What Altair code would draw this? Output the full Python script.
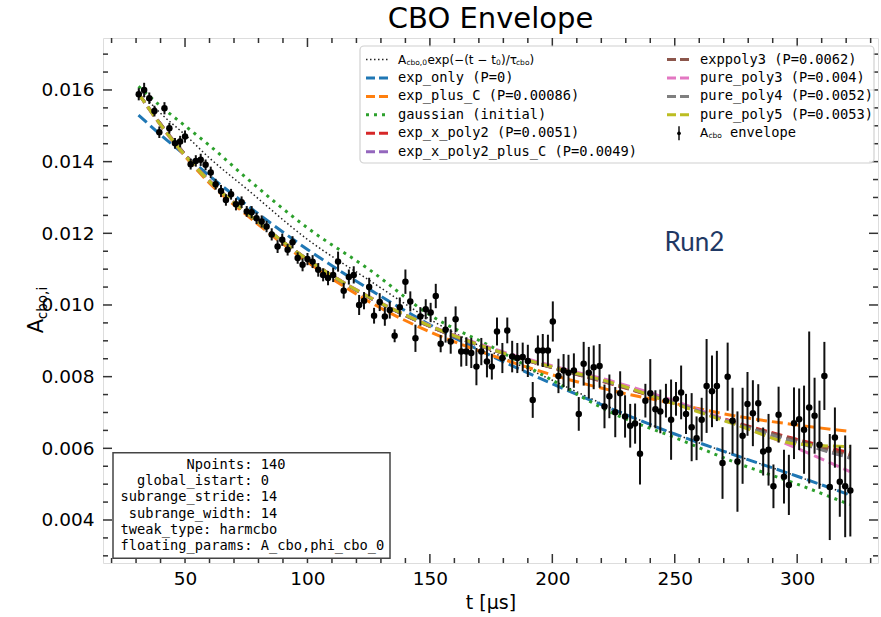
import altair as alt
import pandas as pd

# ---------------- data ----------------
t_obs = [31.1, 33.3, 35.4, 37.5, 39.5, 41.6, 43.6, 45.9, 48.0, 50.0, 52.3, 54.4, 56.4, 58.4, 60.5,
         62.5, 64.7, 66.7, 68.8, 70.8, 73.1, 75.2, 77.2, 79.2, 81.3, 83.3, 85.4, 87.8, 89.7,
         91.9, 93.9, 96.0, 98.0, 100.0, 102.1, 104.4, 106.4, 108.4, 110.5, 112.5, 114.8, 116.9, 118.9,
         121.1, 123.1, 125.2, 127.2, 129.5, 131.6, 133.6, 135.6, 137.7, 140.0, 142.0, 144.1, 146.1,
         148.3, 150.3, 152.4, 154.4,
         156.4, 158.5, 160.5, 162.8, 164.9, 166.9, 169.0, 171.0, 173.3, 175.3, 177.4, 179.6, 181.6,
         183.6, 185.7, 187.9, 190.0, 192.0, 194.1, 196.1, 198.2, 200.2, 202.5, 204.6, 206.6, 208.8,
         210.8, 212.8, 214.9, 216.9,
         219.3, 221.3, 223.3, 225.7, 227.7, 229.7, 231.8, 233.8, 235.8, 238.0, 240.0, 242.1, 244.1,
         246.4, 248.5, 250.5, 252.6, 254.6, 256.9, 258.9, 261.0, 263.0, 265.2, 267.2, 269.5, 271.6,
         273.6, 275.6, 277.7, 279.7, 281.9, 284.1, 286.1, 288.3, 290.3, 292.4, 294.6, 296.6, 298.7,
         300.8, 302.8, 304.9, 307.1, 309.1, 311.1, 313.3, 315.4, 317.4, 319.6, 321.7]

a_obs = [0.01588, 0.01600, 0.01577, 0.01541, 0.01482, 0.01549, 0.01493, 0.01451, 0.01456, 0.01470,
         0.01393, 0.01402, 0.01405, 0.01391, 0.01370, 0.01337, 0.01318, 0.01293, 0.01309, 0.01281,
         0.01287, 0.01261, 0.01259, 0.01242, 0.01233, 0.01219, 0.01197, 0.01163, 0.01182,
         0.01154, 0.01175, 0.01131, 0.01112, 0.01128, 0.01121, 0.01098, 0.01084, 0.01075, 0.01084,
         0.01121, 0.01040, 0.01078, 0.01084, 0.01000, 0.01012, 0.01050, 0.00970, 0.01008, 0.00968,
         0.00986, 0.00914, 0.00994, 0.01065, 0.01010, 0.00907, 0.00968, 0.00988, 0.00979, 0.01025,
         0.00892,
         0.00931, 0.00898, 0.00960, 0.00870, 0.00870, 0.00866, 0.00828, 0.00870, 0.00842, 0.00828,
         0.00926, 0.00852, 0.00929, 0.00856, 0.00852, 0.00855, 0.00844, 0.00735, 0.00873, 0.00873,
         0.00873, 0.00954, 0.00802, 0.00817, 0.00811, 0.00817, 0.00696, 0.00836, 0.00811, 0.00826,
         0.00830, 0.00717, 0.00745, 0.00701, 0.00754, 0.00689, 0.00663, 0.00669, 0.00585, 0.00733,
         0.00754, 0.00709, 0.00703, 0.00733, 0.00680, 0.00738, 0.00756, 0.00696, 0.00659, 0.00628,
         0.00680, 0.00774, 0.00759, 0.00774, 0.00559, 0.00800,
         0.00677, 0.00563, 0.00635, 0.00724, 0.00698, 0.00726, 0.00591, 0.00596, 0.00494, 0.00694,
         0.00521, 0.00498, 0.00670, 0.00681, 0.00652, 0.00714, 0.00691, 0.00610, 0.00802, 0.00492,
         0.00630, 0.00507, 0.00494, 0.00482]

a_err = [0.00017, 0.00020, 0.00016, 0.00015, 0.00016, 0.00017, 0.00015, 0.00015, 0.00016, 0.00017,
         0.00015, 0.00016, 0.00017, 0.00015, 0.00016, 0.00015, 0.00017, 0.00016, 0.00015, 0.00017,
         0.00016, 0.00015, 0.00017, 0.00016, 0.00017, 0.00016, 0.00017, 0.00018, 0.00017,
         0.00016, 0.00017, 0.00016, 0.00018, 0.00017, 0.00018, 0.00019, 0.00018, 0.00020, 0.00020,
         0.00028, 0.00022, 0.00021, 0.00024, 0.00028, 0.00024, 0.00026, 0.00022, 0.00025, 0.00026,
         0.00024, 0.00018, 0.00027, 0.00034, 0.00028, 0.00038, 0.00026, 0.00028, 0.00027, 0.00034,
         0.00024,
         0.00036, 0.00034, 0.00036, 0.00042, 0.00040, 0.00042, 0.00052, 0.00038, 0.00044, 0.00036,
         0.00039, 0.00042, 0.00036, 0.00044, 0.00042, 0.00040, 0.00045, 0.00050, 0.00042, 0.00046,
         0.00044, 0.00056, 0.00048, 0.00046, 0.00050, 0.00048, 0.00047, 0.00061, 0.00072, 0.00061,
         0.00061, 0.00061, 0.00061, 0.00070, 0.00061, 0.00059, 0.00061, 0.00056, 0.00086, 0.00047,
         0.00095, 0.00053, 0.00061, 0.00047, 0.00112, 0.00047, 0.00075, 0.00056, 0.00095, 0.00061,
         0.00061, 0.00131, 0.00100, 0.00098, 0.00100, 0.00095,
         0.00092, 0.00140, 0.00134, 0.00089, 0.00092, 0.00053, 0.00067, 0.00100, 0.00061, 0.00078,
         0.00075, 0.00084, 0.00100, 0.00086, 0.00123, 0.00212, 0.00106, 0.00123, 0.00095, 0.00148,
         0.00084, 0.00098, 0.00142, 0.00128]

curve_t = [31, 40, 50, 60, 75, 100, 125, 150, 175, 200, 225, 250, 275, 300, 321.5]
formula_vals = [0.0160, 0.01535, 0.01475, 0.0141, 0.01325, 0.01183, 0.0107, 0.0096, 0.0087, 0.0079,
                0.0071, 0.0064, 0.0058, 0.00522, 0.0047]
exp_only = [0.0153, 0.01475, 0.01418, 0.0136, 0.0128, 0.01155, 0.01045, 0.00945, 0.00858, 0.0078,
            0.00708, 0.0064, 0.0058, 0.00522, 0.0047]
exp_plus_C = [0.0159, 0.01502, 0.01415, 0.0134, 0.01252, 0.0112, 0.0101, 0.00925, 0.0086, 0.00805,
              0.0076, 0.00725, 0.0069, 0.00665, 0.00647]
gaussian = [0.0161, 0.01555, 0.0150, 0.01445, 0.01355, 0.01215, 0.0110, 0.00972, 0.00884, 0.0079,
            0.00697, 0.0063, 0.0056, 0.0050, 0.00443]
exp_x_poly2 = [0.0159, 0.01505, 0.0142, 0.01346, 0.01258, 0.01127, 0.01022, 0.0094, 0.00876, 0.00825,
               0.00778, 0.00726, 0.00672, 0.00625, 0.00587]
exp_x_poly2_plus_C = [0.0159, 0.01505, 0.0142, 0.01346, 0.01258, 0.01127, 0.01022, 0.0094, 0.00876,
                      0.00826, 0.0078, 0.00727, 0.00668, 0.00617, 0.00573]
exppoly3 = [0.0159, 0.01505, 0.0142, 0.01346, 0.01258, 0.01127, 0.01022, 0.0094, 0.00876, 0.00825,
            0.00779, 0.00726, 0.0067, 0.00622, 0.0058]
pure_poly3 = [0.0159, 0.01502, 0.01418, 0.01345, 0.01258, 0.01127, 0.01024, 0.00943, 0.0088, 0.0083,
              0.00786, 0.00732, 0.00668, 0.0060, 0.00535]
pure_poly4 = [0.0159, 0.01503, 0.01419, 0.01346, 0.01258, 0.01127, 0.01022, 0.00941, 0.00877, 0.00826,
              0.0078, 0.00727, 0.00668, 0.00616, 0.00573]
pure_poly5 = [0.0159, 0.01503, 0.01418, 0.01345, 0.01258, 0.01127, 0.01023, 0.00942, 0.00877, 0.00827,
              0.00782, 0.00724, 0.00666, 0.00612, 0.00605]

fit_labels = ["exp_only (P=0)", "exp_plus_C (P=0.00086)", "gaussian (initial)",
              "exp_x_poly2 (P=0.0051)", "exp_x_poly2_plus_C (P=0.0049)", "exppoly3 (P=0.0062)",
              "pure_poly3 (P=0.004)", "pure_poly4 (P=0.0052)", "pure_poly5 (P=0.0053)"]
fit_values = [exp_only, exp_plus_C, gaussian, exp_x_poly2, exp_x_poly2_plus_C, exppoly3,
              pure_poly3, pure_poly4, pure_poly5]
fit_colors = ["#1f77b4", "#ff7f0e", "#2ca02c", "#d62728", "#9467bd", "#8c564b",
              "#e377c2", "#7f7f7f", "#bcbd22"]
fit_dotted = [False, False, True, False, False, False, False, False, False]

info_keys = ["Npoints:", "global_istart:", "subrange_stride:", "subrange_width:", "tweak_type:",
             "floating_params:"]
info_vals = ["140", "0", "14", "14", "harmcbo", "A_cbo,phi_cbo_0"]
info_right_aligned = [True, True, True, True, False, True]

x_major = [50, 100, 150, 200, 250, 300]
x_minor = [20, 30, 40, 60, 70, 80, 90, 110, 120, 130, 140, 160, 170, 180, 190, 210, 220, 230, 240,
           260, 270, 280, 290, 310, 320, 330]
y_major = [0.004, 0.006, 0.008, 0.010, 0.012, 0.014, 0.016]
y_minor = [0.003, 0.0035, 0.0045, 0.005, 0.0055, 0.0065, 0.007, 0.0075, 0.0085, 0.009, 0.0095,
           0.0105, 0.011, 0.0115, 0.0125, 0.013, 0.0135, 0.0145, 0.015, 0.0155, 0.0165, 0.017]

# ---------------- layout ----------------
W, H = 775, 525
FONT = "DejaVu Sans"
MONO = "DejaVu Sans Mono"
FRAME = "#333333"
MONO_SIZE = 13.7
CW = 0.602 * MONO_SIZE  # monospace advance

xscale = alt.Scale(domain=[16.5, 333], nice=False, zero=False)
yscale = alt.Scale(domain=[0.0028, 0.01745], nice=False, zero=False)
xaxis = alt.Axis(values=x_major, format="d", title="t [µs]", grid=False, ticks=False, domain=False,
                 labelFontSize=18.5, labelFont=FONT, labelPadding=6, labelColor="black",
                 titleFont=FONT, titleFontSize=19, titleFontWeight="normal", titlePadding=6,
                 titleColor="black")
yaxis = alt.Axis(values=y_major, format=".3f", title=None, grid=False, ticks=False, domain=False,
                 labelFontSize=18.5, labelFont=FONT, labelPadding=9, labelColor="black")


def X(field="t"):
    return alt.X(f"{field}:Q", scale=xscale, axis=xaxis)


def Y(field):
    return alt.Y(f"{field}:Q", scale=yscale, axis=yaxis)


one = pd.DataFrame({"k": [0]})
layers = []


def label(txt, x, y, font=FONT, size=13, align="left", angle=None, color="black"):
    kw = dict(text=txt, font=font, fontSize=size, align=align, baseline="middle", color=color)
    if angle is not None:
        kw["angle"] = angle
    return alt.Chart(one).mark_text(**kw).encode(x=alt.value(x), y=alt.value(y))


# fitted curves
formula_df = pd.DataFrame({"t": curve_t, "v": formula_vals})
layers.append(alt.Chart(formula_df).mark_line(color="#222222", strokeWidth=1.5, strokeDash=[1.5, 2.5],
                                              interpolate="monotone", clip=True)
              .encode(x=X(), y=Y("v")))
for lab, vals, col, dot in zip(fit_labels, fit_values, fit_colors, fit_dotted):
    dfc = pd.DataFrame({"t": curve_t, "v": vals})
    dash = [3, 5] if dot else [11, 5]
    layers.append(alt.Chart(dfc).mark_line(color=col, strokeWidth=3, strokeDash=dash,
                                           interpolate="monotone", clip=True)
                  .encode(x=X(), y=Y("v")))

# data with error bars
pts = pd.DataFrame({"t": t_obs, "a": a_obs, "e": a_err})
base_pts = alt.Chart(pts).transform_calculate(lo="datum.a - datum.e", hi="datum.a + datum.e")
layers.append(base_pts.mark_rule(color="#111111", strokeWidth=2, clip=True)
              .encode(x=X(), y=Y("lo"), y2="hi:Q"))
layers.append(alt.Chart(pts).mark_circle(color="black", size=42, opacity=1, clip=True)
              .encode(x=X(), y=Y("a")))

# inward ticks on all four sides
xmaj = pd.DataFrame({"t": x_major})
xmin = pd.DataFrame({"t": x_minor})
ymaj = pd.DataFrame({"v": y_major})
ymin = pd.DataFrame({"v": y_minor})
for df, L in [(xmaj, 9), (xmin, 5)]:
    layers.append(alt.Chart(df).mark_rule(color=FRAME, strokeWidth=1.5)
                  .encode(x=X(), y=alt.value(H), y2=alt.value(H - L)))
    layers.append(alt.Chart(df).mark_rule(color=FRAME, strokeWidth=1.5)
                  .encode(x=X(), y=alt.value(0), y2=alt.value(L)))
for df, L in [(ymaj, 9), (ymin, 5)]:
    layers.append(alt.Chart(df).mark_rule(color=FRAME, strokeWidth=1.5)
                  .encode(y=Y("v"), x=alt.value(0), x2=alt.value(L)))
    layers.append(alt.Chart(df).mark_rule(color=FRAME, strokeWidth=1.5)
                  .encode(y=Y("v"), x=alt.value(W), x2=alt.value(W - L)))

# "Run2" annotation
run_df = pd.DataFrame({"t": [258.0], "v": [0.01172], "s": ["Run2"]})
layers.append(alt.Chart(run_df).mark_text(font="Lato", fontSize=26, color="#1f3864", align="center",
                                          baseline="middle")
              .encode(x=X(), y=Y("v"), text="s:N"))

# ---------------- legend (upper right) ----------------
LX0, LX1, LY0, LY1 = 257, 771, 8, 125
layers.append(alt.Chart(one).mark_rect(fill="white", opacity=0.9, stroke="#cccccc", strokeWidth=1.2,
                                       cornerRadius=4)
              .encode(x=alt.value(LX0), x2=alt.value(LX1), y=alt.value(LY0), y2=alt.value(LY1)))
ROW0, DROW = 21.5, 18.45
C1H0, C1H1, C1T = 263, 287, 295
C2H0, C2H1, C2T = 564, 588, 597

# formula entry (row 0, column 1): A_cbo,0 exp(-(t - t_0)/tau_cbo)
layers.append(alt.Chart(one).mark_rule(color="#222222", strokeWidth=1.5, strokeDash=[1.5, 2.5])
              .encode(x=alt.value(C1H0), x2=alt.value(C1H1), y=alt.value(ROW0)))
MS, SS = 12, 7.5
segs = [("A", 0, MS, 0), ("cbo,0", 8.4, SS, 3), ("exp(−(t − t", 29.5, MS, 0), ("0", 98.0, SS, 3),
        (")/τ", 103.0, MS, 0), ("cbo", 118.0, SS, 3), (")", 131.5, MS, 0)]
for txt, dx, fs, dy in segs:
    layers.append(label(txt, C1T + dx, ROW0 + dy, size=fs))

for i in range(9):
    if i < 5:
        h0, h1, tx, ry = C1H0, C1H1, C1T, ROW0 + DROW * (i + 1)
    else:
        h0, h1, tx, ry = C2H0, C2H1, C2T, ROW0 + DROW * (i - 5)
    dash = [3, 5] if fit_dotted[i] else [9, 4]
    layers.append(alt.Chart(one).mark_rule(color=fit_colors[i], strokeWidth=3, strokeDash=dash)
                  .encode(x=alt.value(h0), x2=alt.value(h1), y=alt.value(ry)))
    layers.append(label(fit_labels[i], tx, ry, font=MONO, size=MONO_SIZE))

# errorbar entry
EB_Y = ROW0 + DROW * 4
EB_X = (C2H0 + C2H1) / 2
layers.append(alt.Chart(one).mark_rule(color="#111111", strokeWidth=1.5)
              .encode(x=alt.value(EB_X), y=alt.value(EB_Y - 7), y2=alt.value(EB_Y + 7)))
layers.append(alt.Chart(one).mark_circle(color="black", size=14, opacity=1)
              .encode(x=alt.value(EB_X), y=alt.value(EB_Y)))
layers.append(label("A", C2T, EB_Y, size=MS))
layers.append(label("cbo", C2T + 8.4, EB_Y + 3, size=SS))
layers.append(label("envelope", C2T + 30, EB_Y, font=MONO, size=MONO_SIZE))

# ---------------- info box (lower left) ----------------
layers.append(alt.Chart(one).mark_rect(fill="white", stroke="#444444", strokeWidth=1.5)
              .encode(x=alt.value(10), x2=alt.value(287), y=alt.value(414.7), y2=alt.value(520.3)))
TX0 = 17.5
COLON_X = TX0 + 16 * CW
for k, (key, val, ra) in enumerate(zip(info_keys, info_vals, info_right_aligned)):
    ly = 427 + 16.2 * k
    if ra:
        layers.append(label(key, COLON_X, ly, font=MONO, size=MONO_SIZE, align="right"))
        layers.append(label(val, COLON_X + CW, ly, font=MONO, size=MONO_SIZE))
    else:
        layers.append(label(key, TX0, ly, font=MONO, size=MONO_SIZE))
        layers.append(label(val, TX0 + (len(key) + 1) * CW, ly, font=MONO, size=MONO_SIZE))

# ---------------- y-axis title with subscript ----------------
layers.append(label("A", -66, 288, size=21, align="center", angle=270))
layers.append(label("cbo,i", -60, 265, size=13.5, align="center", angle=270))

chart = alt.layer(*layers).properties(
    width=W, height=H,
    title=alt.TitleParams("CBO Envelope", font=FONT, fontSize=29, fontWeight="normal",
                          anchor="middle", offset=3, color="black"),
    autosize=alt.AutoSizeParams(type="none"),
    padding={"left": 103, "top": 38, "right": 3, "bottom": 54},
).configure_view(stroke=FRAME, strokeWidth=2).configure(background="white")

chart.save("out.html", embed_options={"renderer": "svg", "actions": False})
